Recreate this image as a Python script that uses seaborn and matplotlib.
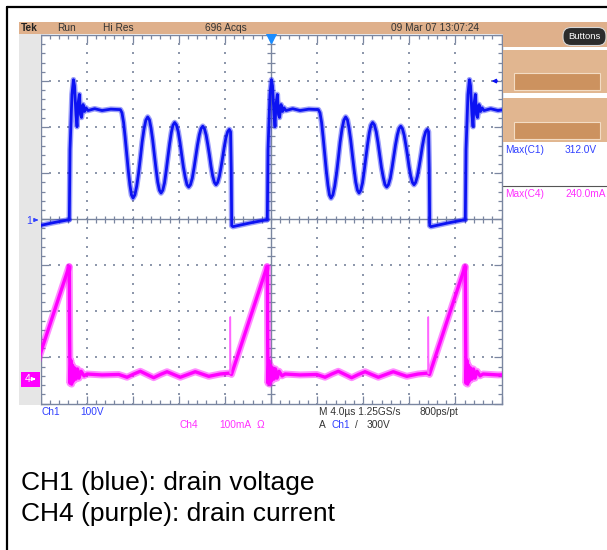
import numpy as np
import pandas as pd
import matplotlib
matplotlib.use("Agg")
import matplotlib.pyplot as plt
import seaborn as sns
from matplotlib import font_manager as fm
from matplotlib.patches import Rectangle, FancyBboxPatch, FancyArrowPatch
from matplotlib.lines import Line2D
from matplotlib.transforms import Affine2D

# ---------------- data ----------------
# one switching cycle, time relative to the turn-off edge (us)
CH1_T_US = [0, 0.06, 0.23, 0.36, 0.45, 0.58, 0.67, 0.75, 0.87, 0.97,
            1.06, 1.19, 1.32, 1.45, 1.62, 2.20, 2.84, 3.60, 4.43,
            4.57, 4.71, 4.84, 4.98, 5.12, 5.26, 5.39, 5.53,
            5.69, 5.85, 6.01, 6.17, 6.32, 6.48, 6.64, 6.80,
            6.95, 7.09, 7.24, 7.38, 7.53, 7.67, 7.82, 7.96,
            8.11, 8.26, 8.40, 8.55, 8.70, 8.85, 8.99, 9.14,
            9.29, 9.45, 9.60, 9.75, 9.90, 10.06, 10.21, 10.36,
            10.51, 10.67, 10.82, 10.97, 11.12, 11.28, 11.43, 11.58,
            11.72, 11.87, 12.01, 12.16, 12.30, 12.44, 12.59, 12.73,
            12.87, 13.02, 13.16, 13.31, 13.45, 13.59, 13.74, 13.88,
            13.99, 14.05, 14.09, 14.20, 15.68, 17.15]
CH1_V = [-1, 151, 271, 303, 290, 227, 201, 249, 271, 227,
         221, 249, 234, 242, 236, 240, 236, 239, 238,
         231, 210, 179, 142, 105, 74, 53, 46,
         53, 72, 100, 134, 168, 196, 215, 222,
         216, 198, 171, 140, 108, 81, 63, 57,
         63, 79, 104, 134, 163, 188, 204, 210,
         205, 190, 167, 140, 113, 91, 75, 70,
         75, 89, 111, 136, 161, 183, 197, 202,
         197, 183, 163, 139, 114, 94, 80, 75,
         80, 93, 112, 135, 158, 177, 190, 195,
         190, 108, -14, -16, -8, -1]

CH4_T_US = [0, 0.03, 0.06, 0.13, 0.20, 0.28, 0.36, 0.47, 0.58, 0.71,
            0.84, 1.02, 1.28, 1.54, 2.84, 4.29, 5.01, 5.59, 6.16, 6.74, 7.32,
            7.90, 8.48, 9.05, 9.63, 10.28, 10.93, 11.51, 12.10, 13.08, 13.90,
            14.07, 17.15]
CH4_MA = [244, 85, -9, 41, -11, 30, -4, 24, 0, 22,
          2, 17, 7, 11, 9, 10, 4, 11, 17, 10, 3,
          10, 16, 10, 4, 10, 16, 11, 6, 11, 13,
          10, 244]
CH4_SPIKE_T_US = [13.95, 13.97, 14.00]
CH4_SPIKE_MA = [13, 135, 12]

EDGES_US = [-14.68, 2.50, 19.68, 36.86]   # turn-off edges on screen

CH1_VOLTS_PER_DIV = 100
CH4_MA_PER_DIV = 100
CH4_OFFSET_DIV = -3.47
TIME_PER_DIV_US = 4

HEADER_LABELS = ["Tek", "Run", "Hi Res", "696 Acqs", "09 Mar 07 13:07:24"]
MEAS_LABELS = ["Max(C1)", "Max(C4)"]
MEAS_VALUES = ["312.0V", "240.0mA"]
CAPTIONS = ["CH1 (blue): drain voltage", "CH4 (purple): drain current"]

# ---------------- style ----------------
W, H = 607, 550
TAN = "#dfb08b"
PANEL = "#e1b690"
BTN = "#cc925f"
FRAME = "#7a86a0"
DOT = "#8e98ac"
BLUE = "#0c12f2"
TBLUE = "#3040ff"
MAG = "#ff00ff"
TMAG = "#ff30ff"
DARK = "#333333"

sns.set_theme(style="white")
names = {f.name for f in fm.fontManager.ttflist}
SCOPE_FONT = "Liberation Sans Narrow" if "Liberation Sans Narrow" in names else "Liberation Sans"
CAP_FONT = "Liberation Sans"
plt.rcParams["font.family"] = [CAP_FONT, "DejaVu Sans"]

fig = plt.figure(figsize=(W / 100, H / 100), dpi=100)
fig.patch.set_facecolor("white")
px = Affine2D().scale(1 / W, -1 / H).translate(0, 1) + fig.transFigure


def rect(x, y, w, h, fc, ec="none", lw=0, z=0):
    fig.patches.append(Rectangle((x, y), w, h, transform=px, facecolor=fc,
                                 edgecolor=ec, linewidth=lw, zorder=z))


def txt(x, y, s, color=DARK, size=7.3, family=None, ha="left", **kw):
    fig.text(x, y, s, transform=px, color=color, fontsize=size,
             family=family or [SCOPE_FONT, "DejaVu Sans"], va="center", ha=ha, **kw)


# outer black border
fig.lines.append(Line2D([7, 7], [7, 551], transform=px, color="black", lw=1.6))
fig.lines.append(Line2D([7, 608], [7, 7], transform=px, color="black", lw=1.6))

# header bar + right panel
rect(19, 22, 590, 11.5, TAN)
rect(503, 22, 106, 25, TAN)
rect(503, 50, 106, 43, PANEL)
rect(503, 98, 106, 44, PANEL)
for yb in (73, 122):
    rect(514, yb, 86, 17, BTN, ec="#f3dcc4", lw=0.8)
# left grey strip
rect(19, 33.5, 21.5, 371, "#e6e6e6")

# Buttons pill
fig.patches.append(FancyBboxPatch((563, 27.5), 43, 18, boxstyle="round,pad=0,rounding_size=8",
                                  transform=px, facecolor="#2c2c2c", edgecolor="#d8d8d8", lw=0.8))
txt(584.5, 36.5, "Buttons", color="white", size=6.8, ha="center")

# header text
for lbl, x in zip(HEADER_LABELS, [21, 57, 103, 205, 391]):
    txt(x, 28, lbl, color="#222222" if lbl == "Tek" else DARK,
        weight="bold" if lbl == "Tek" else "normal")

# measurements
txt(505, 150, MEAS_LABELS[0], color=TBLUE)
txt(565, 150, MEAS_VALUES[0], color=TBLUE)
fig.lines.append(Line2D([503, 608], [186, 186], transform=px, color="#555555", lw=0.8))
txt(505, 194, MEAS_LABELS[1], color=TMAG)
txt(565, 194, MEAS_VALUES[1], color=TMAG)

# bottom scope readouts
txt(41, 412, "Ch1", color=TBLUE)
txt(80, 412, f"{CH1_VOLTS_PER_DIV}V", color=TBLUE)
txt(180, 425, "Ch4", color=TMAG)
txt(219, 425, f"{CH4_MA_PER_DIV}mA", color=TMAG)
txt(257, 425, "Ω", color=TMAG)
txt(319, 412, f"M {TIME_PER_DIV_US:.1f}µs 1.25GS/s")
txt(420, 412, "800ps/pt")
txt(319, 425, "A")
txt(331, 425, "Ch1", color=TBLUE)
txt(355, 425, "/")
txt(367, 425, "300V")

# captions
txt(21, 483, CAPTIONS[0], color="black", size=19, family=[CAP_FONT, "DejaVu Sans"])
txt(21, 514, CAPTIONS[1], color="black", size=19, family=[CAP_FONT, "DejaVu Sans"])

# ground markers
txt(26, 221.5, "1", color=TBLUE, size=7.5)
fig.patches.append(FancyArrowPatch((33, 220), (41, 220), transform=px,
                   arrowstyle="-|>", mutation_scale=5, color=TBLUE, lw=1))
rect(20.5, 371.5, 19.5, 15, MAG)
txt(25, 379, "4", color="white", size=7.5)
fig.patches.append(FancyArrowPatch((31, 379), (38.5, 379), transform=px,
                   arrowstyle="-|>", mutation_scale=5, color="white", lw=1))

# ---------------- graticule axes ----------------
ax = fig.add_axes([40.5 / W, 1 - 403.5 / H, 461 / W, 368.5 / H])
ax.set_facecolor("white")
XMAX = 10 * TIME_PER_DIV_US
ax.set_xlim(0, XMAX)
ax.set_ylim(-4, 4)
for s in ax.spines.values():
    s.set_color(FRAME)
    s.set_linewidth(1.0)
    s.set_visible(True)
ax.set_xticks(np.arange(0, XMAX + 0.01, TIME_PER_DIV_US))
ax.set_xticks(np.arange(0, XMAX + 0.01, TIME_PER_DIV_US / 5), minor=True)
ax.set_yticks(np.arange(-4, 4.01, 1))
ax.set_yticks(np.arange(-4, 4.01, 0.2), minor=True)
ax.tick_params(which="both", direction="in", top=True, right=True, bottom=True, left=True,
               labelbottom=False, labelleft=False, color=FRAME, width=0.9)
ax.tick_params(which="major", length=6)
ax.tick_params(which="minor", length=3)

# dotted grid
gx, gy = [], []
for xv in np.arange(TIME_PER_DIV_US, XMAX, TIME_PER_DIV_US):
    if abs(xv - XMAX / 2) < 1e-6:
        continue
    for yv in np.arange(-4, 4.01, 0.2):
        gx.append(xv); gy.append(yv)
for yv in range(-3, 4):
    if yv == 0:
        continue
    for xv in np.arange(0, XMAX + 0.01, TIME_PER_DIV_US / 5):
        gx.append(xv); gy.append(yv)
ax.scatter(gx, gy, s=1.3, marker="s", color=DOT, linewidths=0, zorder=1)

# centre cross with ticks
ax.axhline(0, color=FRAME, lw=1.0, zorder=1)
ax.axvline(XMAX / 2, color=FRAME, lw=1.0, zorder=1)
xm = np.arange(0, XMAX + 0.01, TIME_PER_DIV_US / 5)
ax.vlines(xm, -0.08, 0.08, color=FRAME, lw=0.9, zorder=1)
ym = np.arange(-4, 4.01, 0.2)
ax.hlines(ym, XMAX / 2 - 0.32, XMAX / 2 + 0.32, color=FRAME, lw=0.9, zorder=1)

# ---------------- traces ----------------
rows = []
for k, e in enumerate(EDGES_US):
    for t, v in zip(CH1_T_US, CH1_V):
        rows.append(("CH1", k, e + t, v / CH1_VOLTS_PER_DIV))
    for t, i in zip(CH4_T_US, CH4_MA):
        rows.append(("CH4", k, e + t, i / CH4_MA_PER_DIV + CH4_OFFSET_DIV))
    for t, i in zip(CH4_SPIKE_T_US, CH4_SPIKE_MA):
        rows.append(("CH4S", k, e + t, i / CH4_MA_PER_DIV + CH4_OFFSET_DIV))
df = pd.DataFrame(rows, columns=["channel", "cycle", "t", "div"])

d1 = df[df.channel == "CH1"]
d4 = df[df.channel == "CH4"]
d4s = df[df.channel == "CH4S"]
sns.lineplot(data=d1, x="t", y="div", units="cycle", estimator=None, sort=False,
             color=BLUE, lw=4.0, alpha=0.4, ax=ax, legend=False, zorder=3)
sns.lineplot(data=d1, x="t", y="div", units="cycle", estimator=None, sort=False,
             color=BLUE, lw=2.0, ax=ax, legend=False, zorder=4)
sns.lineplot(data=d4, x="t", y="div", units="cycle", estimator=None, sort=False,
             color=MAG, lw=5.0, alpha=0.45, ax=ax, legend=False, zorder=3)
sns.lineplot(data=d4, x="t", y="div", units="cycle", estimator=None, sort=False,
             color=MAG, lw=2.4, ax=ax, legend=False, zorder=4)
sns.lineplot(data=d4s, x="t", y="div", units="cycle", estimator=None, sort=False,
             color="#ff66ff", lw=1.1, ax=ax, legend=False, zorder=4)
ax.set_xlim(0, XMAX)
ax.set_ylim(-4, 4)
ax.set_xlabel("")
ax.set_ylabel("")

# trigger markers
ax.plot([XMAX / 2], [3.93], marker="v", color="#1a8cff", markersize=6.5, clip_on=False, zorder=5)
ax.annotate("", xy=(XMAX - 1.1, 3.0), xytext=(XMAX - 0.1, 3.0),
            arrowprops=dict(arrowstyle="-|>", color=BLUE, lw=1, mutation_scale=6), zorder=5)

fig.savefig("out.png", dpi=100, facecolor="white")
